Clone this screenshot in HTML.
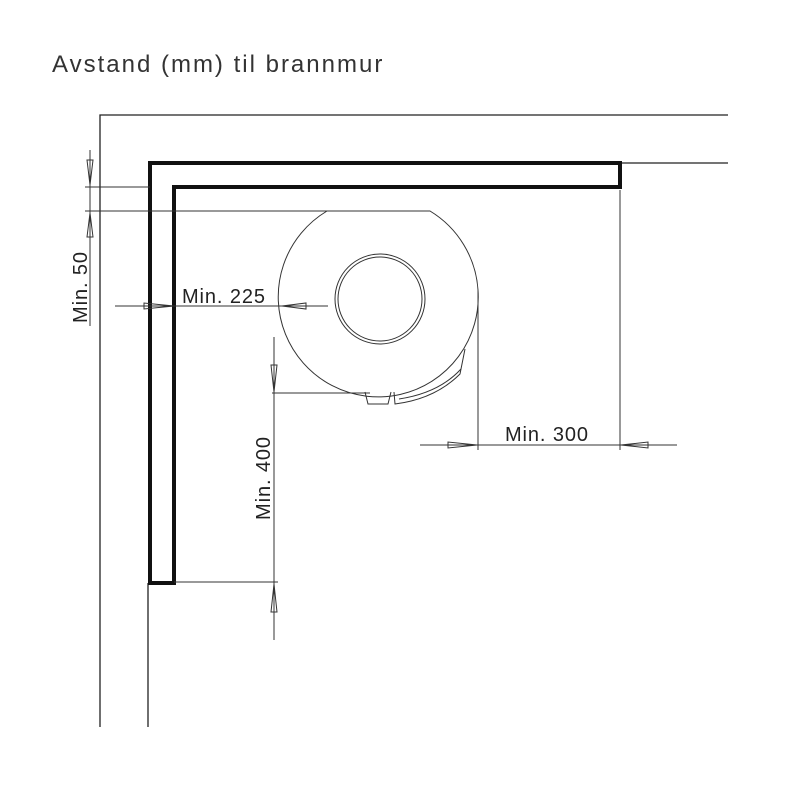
<!DOCTYPE html>
<html><head><meta charset="utf-8"><style>
html,body{margin:0;padding:0;background:#fff;}
svg{display:block;}
</style></head><body>
<svg width="800" height="800" viewBox="0 0 800 800" xmlns="http://www.w3.org/2000/svg">
<text x="52" y="72" font-family="Liberation Sans, sans-serif" font-size="24" letter-spacing="2" fill="#333">Avstand (mm) til brannmur</text>
<g stroke="#222" stroke-width="1.3" fill="none">
  <polyline points="100,727 100,115 728,115"/>
  <line x1="620" y1="163" x2="728" y2="163"/>
  <line x1="148" y1="583" x2="148" y2="727"/>
</g>
<polygon points="150,163 620,163 620,187 174,187 174,583 150,583" fill="none" stroke="#111" stroke-width="4"/>
<g stroke="#333" stroke-width="1" fill="none">
  <path d="M327,211 A100,100 0 1 0 478,290"/>
  <path d="M327,211 L430,211 A100,100 0 0 1 478,290"/>
  <circle cx="380" cy="299" r="45"/>
  <circle cx="380" cy="299" r="42"/>
  <path d="M365,392 l3,12 l20,0 l3,-12"/>
  <path d="M394,392 l1,12 q40,-5 65,-30 l5,-25"/>
  <path d="M399,399 q40,-6 62,-30"/>
  <line x1="478" y1="290" x2="478" y2="450"/>
  <line x1="620" y1="190" x2="620" y2="450"/>
  <line x1="420" y1="445" x2="677" y2="445"/>
  <polygon points="448,442 448,448 477,445"/>
  <polygon points="648,442 648,448 621,445"/>
  <line x1="90" y1="150" x2="90" y2="326"/>
  <line x1="85" y1="187" x2="150" y2="187"/>
  <line x1="85" y1="211" x2="327" y2="211"/>
  <polygon points="87,160 93,160 90,185"/>
  <polygon points="87,237 93,237 90,213"/>
  <line x1="115" y1="306" x2="328" y2="306"/>
  <polygon points="144,303 144,309 174,306"/>
  <polygon points="306,303 306,309 282,306"/>
  <line x1="274" y1="337" x2="274" y2="640"/>
  <line x1="272" y1="393" x2="370" y2="393"/>
  <line x1="174" y1="582" x2="278" y2="582"/>
  <polygon points="271,365 277,365 274,392"/>
  <polygon points="271,612 277,612 274,584"/>
</g>
<g font-family="Liberation Sans, sans-serif" font-size="20" letter-spacing="0.9" fill="#222">
  <text x="505" y="441">Min. 300</text>
  <text x="182" y="303">Min. 225</text>
  <text transform="translate(87,287) rotate(-90)" text-anchor="middle">Min. 50</text>
  <text transform="translate(270,478) rotate(-90)" text-anchor="middle">Min. 400</text>
</g>
</svg>
</body></html>
